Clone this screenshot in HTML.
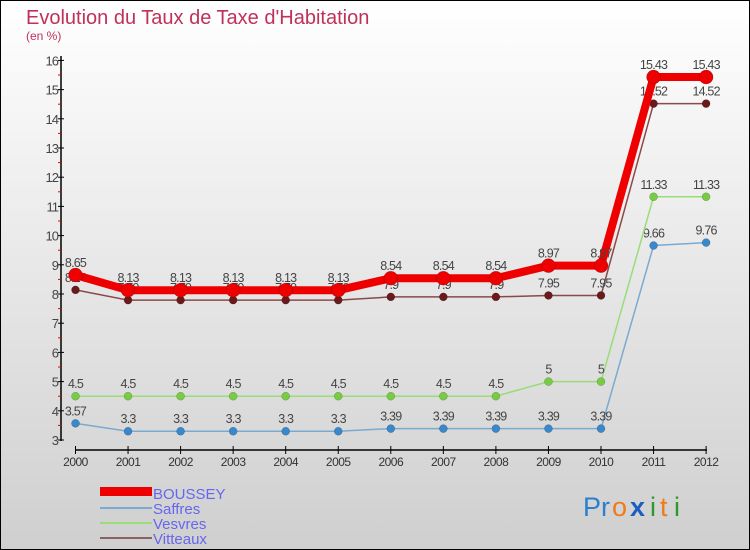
<!DOCTYPE html>
<html><head><meta charset="utf-8"><style>
body{margin:0}
#c{width:750px;height:550px;position:relative;overflow:hidden;box-sizing:border-box;border:1px solid #000;background:linear-gradient(#ffffff,#cfcfcf);font-family:"Liberation Sans",sans-serif}
</style></head><body>
<div id="c">
<svg id="s" width="750" height="550" style="position:absolute;left:-1px;top:-1px">
<text x="26" y="24" font-size="20" fill="#c0305a">Evolution du Taux de Taxe d'Habitation</text>
<text x="26" y="40" font-size="12" fill="#c0305a">(en %)</text>
<g id="axes"></g><g id="series"></g>
<g>
<rect x="100" y="487" width="52" height="9" fill="#e00"/>
<text x="153" y="499" font-size="15" fill="#6666ee">BOUSSEY</text>
<line x1="100" y1="508" x2="152" y2="508" stroke="#7aaad0" stroke-width="2"/>
<text x="153" y="514" font-size="15" fill="#6666ee">Saffres</text>
<line x1="100" y1="523" x2="152" y2="523" stroke="#99dd77" stroke-width="2"/>
<text x="153" y="529" font-size="15" fill="#6666ee">Vesvres</text>
<line x1="100" y1="538" x2="152" y2="538" stroke="#8a6060" stroke-width="2"/>
<text x="153" y="544" font-size="15" fill="#6666ee">Vitteaux</text>
</g>
<g font-size="27">
<text x="583" y="516" fill="#2a7fd0">Pr</text><text x="612" y="516" fill="#f07a1a">o</text><text x="630" y="516" fill="#1a5fc0" font-weight="bold">x</text><text x="650" y="516" fill="#2a9a2a">i</text><text x="660" y="516" fill="#f07a1a">t</text><text x="674" y="516" fill="#2a9a2a">i</text>
</g>
</svg>
</div>
<script>
const years=[2000,2001,2002,2003,2004,2005,2006,2007,2008,2009,2010,2011,2012];
const boussey=[8.65,8.13,8.13,8.13,8.13,8.13,8.54,8.54,8.54,8.97,8.97,15.43,15.43];
const saffres=[3.57,3.3,3.3,3.3,3.3,3.3,3.39,3.39,3.39,3.39,3.39,9.66,9.76];
const vesvres=[4.5,4.5,4.5,4.5,4.5,4.5,4.5,4.5,4.5,5,5,11.33,11.33];
const vitteaux=[8.14,7.79,7.79,7.79,7.79,7.79,7.9,7.9,7.9,7.95,7.95,14.52,14.52];
const yTicks=[3,4,5,6,7,8,9,10,11,12,13,14,15,16];
const NS="http://www.w3.org/2000/svg";
const xs=i=>75.5+i*52.55;
const ys=v=>440-(v-3)*29.2;
function mk(p,t,a){const e=document.createElementNS(NS,t);for(const k in a)e.setAttribute(k,a[k]);p.appendChild(e);return e;}
const ax=document.getElementById('axes');
const yl=mk(ax,'line',{x1:61,y1:56,x2:61,y2:441,stroke:'#000','stroke-width':1.5});


const xl=mk(ax,'line',{x1:75,y1:450,x2:707,y2:450,stroke:'#000','stroke-width':1.5});


yTicks.forEach(v=>{
 mk(ax,'line',{x1:58,y1:ys(v),x2:64,y2:ys(v),stroke:'#000'});
 if(v<16)mk(ax,'line',{x1:58,y1:ys(v+0.5),x2:61,y2:ys(v+0.5),stroke:'#e00'});
 const t=mk(ax,'text',{x:58,y:ys(v)+5,'font-size':13,fill:'#444','text-anchor':'end','letter-spacing':'-1'});
 t.textContent=v;
 
 
});
years.forEach((y,i)=>{
 mk(ax,'line',{x1:xs(i),y1:446,x2:xs(i),y2:454,stroke:'#000'});
 const t=mk(ax,'text',{x:xs(i),y:466,'font-size':12,fill:'#333','text-anchor':'middle','letter-spacing':'-0.5'});
 t.textContent=y;
 
 
});
const sg=document.getElementById('series');
function draw(name,data,color,w,r,dot){
 const g=mk(sg,'g',{});
 
 
 const pl=mk(g,'polyline',{points:data.map((v,i)=>xs(i)+','+ys(v)).join(' '),fill:'none',stroke:color,'stroke-width':w,'stroke-linejoin':'round'});
 
 
 data.forEach((v,i)=>{
  const c=mk(g,'circle',{cx:xs(i),cy:ys(v),r:r,fill:dot,stroke:'rgba(0,0,0,0.3)','stroke-width':0.5});
  
  
  const t=mk(g,'text',{x:xs(i),y:ys(v)-8,'font-size':12.5,fill:'#444','text-anchor':'middle','letter-spacing':'-0.8'});
  t.textContent=v;
  
  
 });
}
draw('saffres',saffres,'#7aaad0',1.5,4,'#3a88cc');
draw('vesvres',vesvres,'#99dd77',1.5,4,'#77cc44');
draw('vitteaux',vitteaux,'#8a4a4a',1.5,4,'#6a1a1a');
draw('boussey',boussey,'#ee0000',8,7,'#ee0000');
</script>
</body></html>
